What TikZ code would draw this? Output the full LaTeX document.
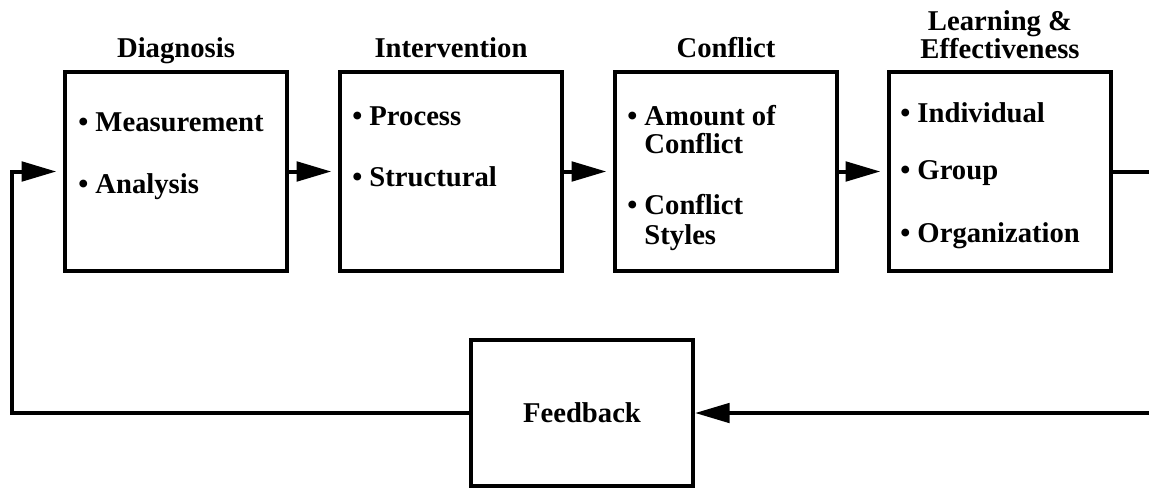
\documentclass[tikz,border=0pt]{standalone}
\usepackage{fontspec}
\setmainfont{Liberation Serif}
\usetikzlibrary{arrows.meta}
\begin{document}
\begin{tikzpicture}[x=0.75pt,y=-0.75pt,
  box/.style={draw,line width=3pt,minimum width=166.5pt,minimum height=149.25pt,inner sep=0pt},
  fbbox/.style={box,minimum height=109.5pt,font=\fontsize{21.5}{25}\selectfont\bfseries},
  ttl/.style={font=\fontsize{21.5}{25}\selectfont\bfseries,anchor=base,inner sep=0pt},
  itm/.style={font=\fontsize{21.5}{25}\selectfont\bfseries,anchor=base west,inner sep=0pt},
  conn/.style={line width=3pt},
  tip/.style={-{Triangle[length=26pt,width=14.5pt]}},
  arr/.style={conn,tip,shorten >=5pt}]
\useasboundingbox (0,0) rectangle (1149,490);
% boxes
\node[box] (diag) at (176,171.5) {};
\node[box] (intv) at (451,171.5) {};
\node[box] (conf) at (726,171.5) {};
\node[box] (lrn)  at (1000,171.5) {};
\node[fbbox] (fb) at (582,413) {Feedback};
% titles
\node[ttl] (tdiag) at (176,57) {Diagnosis};
\node[ttl] (tintv) at (451,57) {Intervention};
\node[ttl] (tconf) at (726,57) {Conflict};
\node[ttl] (tlrn1) at (1000,30) {Learning \&};
\node[ttl] (tlrn2) at (1000,58) {Effectiveness};
% items
\node[itm] (d1) at (78,131) {• Measurement};
\node[itm] (d2) at (78,193) {• Analysis};
\node[itm] (i1) at (352,125) {• Process};
\node[itm] (i2) at (352,186) {• Structural};
\node[itm] (c1) at (627,125) {• Amount of};
\node[itm] (c2) at (627,153) {\phantom{• }Conflict};
\node[itm] (c3) at (627,214) {• Conflict};
\node[itm] (c4) at (627,244) {\phantom{• }Styles};
\node[itm] (l1) at (900,122) {• Individual};
\node[itm] (l2) at (900,179) {• Group};
\node[itm] (l3) at (900,242) {• Organization};
% connectors
\coordinate (rout) at (1149,171.5);
\coordinate (rin) at (1149,413);
\coordinate (lc) at (12,413);
\draw[arr] (diag.east) -- (intv.west);
\draw[arr] (intv.east) -- (conf.west);
\draw[arr] (conf.east) -- (lrn.west);
\draw[conn] (lrn.east) -- (rout);
\draw[conn,tip] (rin) -- (fb.east);
\draw[arr] (fb.west) -- (lc) |- (diag.west);
\end{tikzpicture}
\end{document}
